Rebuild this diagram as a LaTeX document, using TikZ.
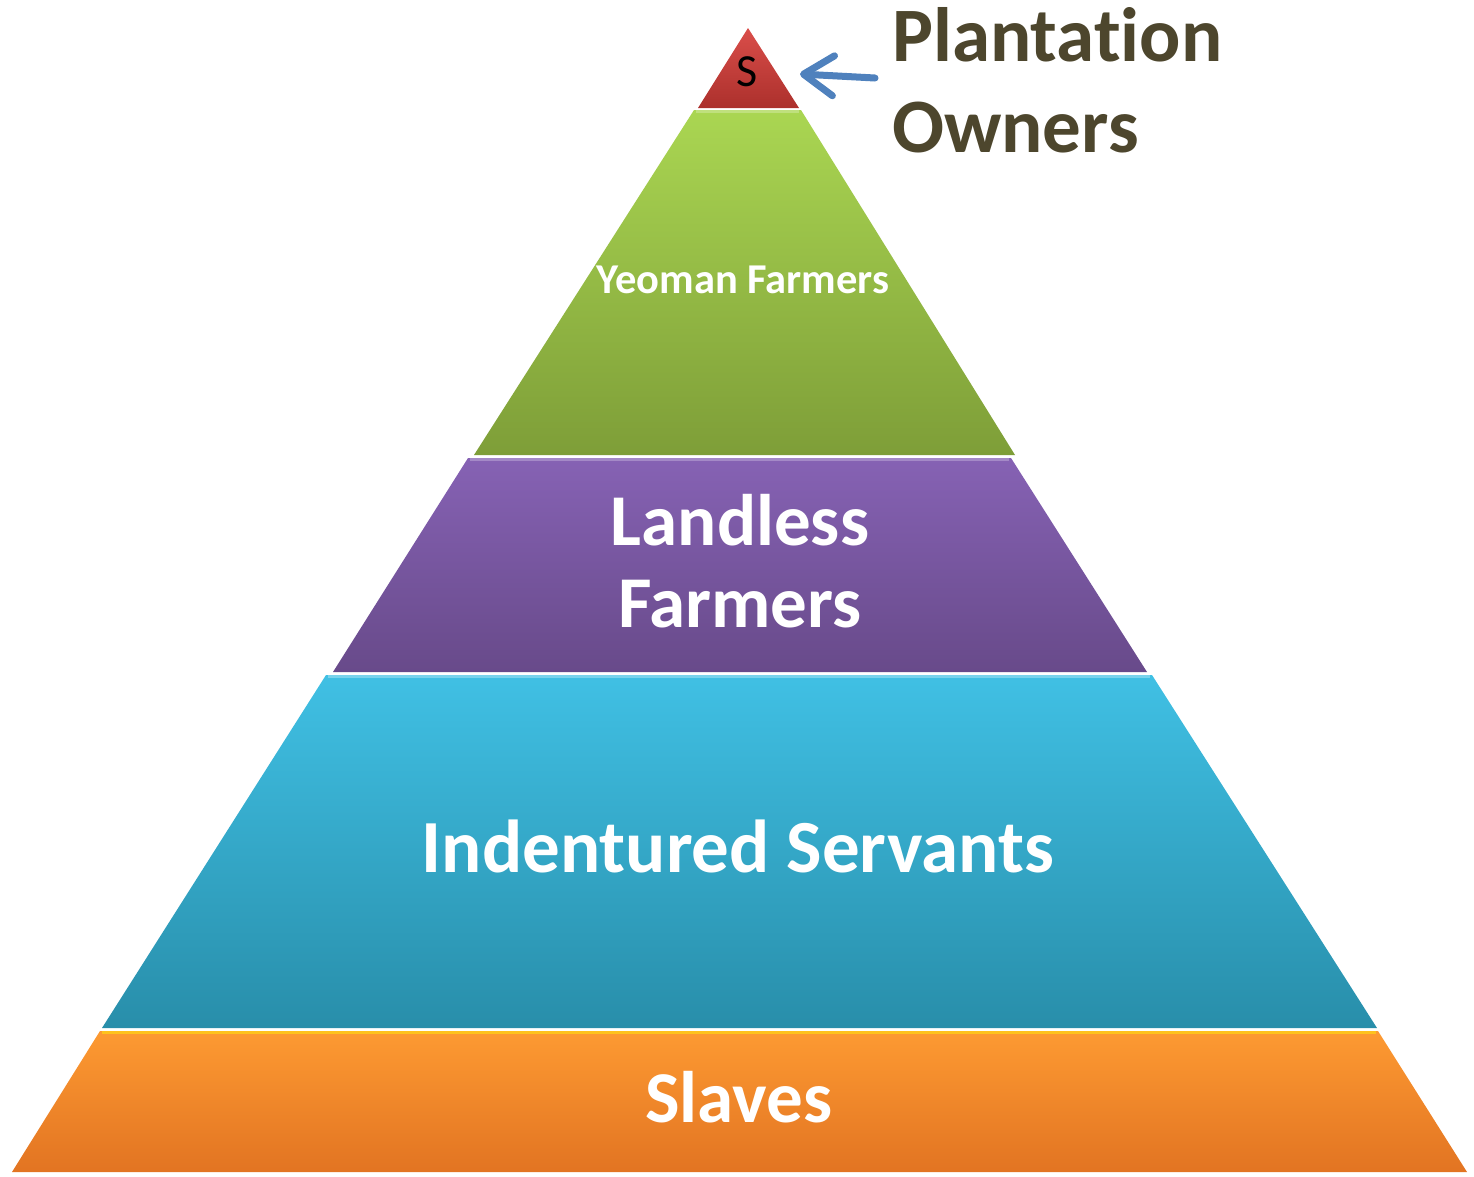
\documentclass[tikz,border=0pt]{standalone}
\usepackage{fontspec}
\setmainfont[Ligatures={NoCommon}]{Carlito}
\usepackage{xcolor}
\usetikzlibrary{arrows.meta}
\definecolor{OwnerText}{RGB}{77,70,45}
\definecolor{ArrowBlue}{RGB}{79,129,189}
\definecolor{RedTop}{RGB}{218,78,74}
\definecolor{RedBot}{RGB}{172,48,44}
\definecolor{GreenTop}{RGB}{170,214,82}
\definecolor{GreenBot}{RGB}{126,158,56}
\definecolor{PurpleTop}{RGB}{134,98,180}
\definecolor{PurpleBot}{RGB}{104,74,138}
\definecolor{BlueTop}{RGB}{64,192,228}
\definecolor{BlueBot}{RGB}{40,142,170}
\definecolor{OrangeTop}{RGB}{253,154,50}
\definecolor{OrangeBot}{RGB}{226,116,34}

\begin{document}
\begin{tikzpicture}[x=1pt, y=-1pt,
        % Style cho các tầng kim tự tháp
        layer/.style={draw=none},
        % Viền sáng phía trên mỗi tầng
        bevel/.style={line width=3pt, line cap=butt},
        % Chữ trắng trong các tầng
        label-big/.style={
            text=white,
            font=\bfseries\fontsize{73}{82}\selectfont,
            align=center,
            inner sep=0pt
        },
        label-small/.style={
            text=white,
            font=\bfseries\fontsize{42.5}{50}\selectfont,
            inner sep=0pt
        },
        % Mũi tên xanh
        pointer/.style={
            draw=ArrowBlue,
            line width=7pt,
            line cap=round,
            -{Straight Barb[round, length=30pt, width=40pt]}
        }
    ]
        \useasboundingbox (0,0) rectangle (1474,1176);

        % --- 1. CÁC TẦNG ---
        % Tầng đỉnh (đỏ)
        \path[layer, top color=RedTop, bottom color=RedBot]
            (748,28) -- (799,108) -- (698,108) -- cycle;
        % Tầng 2 (xanh lá)
        \path[layer, top color=GreenTop, bottom color=GreenBot]
            (694,110) -- (801,110) -- (1015,455) -- (474,455) -- cycle;
        \draw[bevel, GreenTop!75!white] (696,111.5) -- (799,111.5);
        % Tầng 3 (tím)
        \path[layer, top color=PurpleTop, bottom color=PurpleBot]
            (468,458) -- (1011,458) -- (1147,672) -- (333,672) -- cycle;
        \draw[bevel, PurpleTop!75!white] (470,459.5) -- (1009,459.5);
        % Tầng 4 (xanh dương)
        \path[layer, top color=BlueTop, bottom color=BlueBot]
            (326,675) -- (1152,675) -- (1377,1028) -- (102,1028) -- cycle;
        \draw[bevel, BlueTop!70!white] (328,676.5) -- (1150,676.5);
        % Tầng đáy (cam)
        \path[layer, top color=OrangeTop, bottom color=OrangeBot]
            (100,1031) -- (1378,1031) -- (1467,1172) -- (12,1172) -- cycle;
        \draw[bevel, OrangeTop!60!yellow] (102,1032.5) -- (1376,1032.5);

        % --- 2. NHÃN ---
        \node[font=\fontsize{46}{50}\selectfont, anchor=base, inner sep=0pt] (top) at (747,86) {S};
        \node[label-small, anchor=base] (yeoman) at (743,293) {Yeoman Farmers};
        \node[label-big] (landless) at (740,561) {Landless\\Farmers};
        \node[label-big, font=\bfseries\fontsize{75}{82}\selectfont, anchor=base] (servants) at (738,872) {Indentured Servants};
        \node[label-big, anchor=base] (slaves) at (739,1122) {Slaves};

        % --- 3. CHÚ THÍCH ---
        \node[text=OwnerText, font=\bfseries\fontsize{77}{91}\selectfont,
              align=left, anchor=west, inner sep=0pt] (owners) at (892,80) {Plantation\\Owners};
        \coordinate (tiptarget) at (800,74);
        \draw[pointer] ([xshift=-17pt, yshift=2pt]owners.west) -- (tiptarget);

    \end{tikzpicture}
\end{document}
